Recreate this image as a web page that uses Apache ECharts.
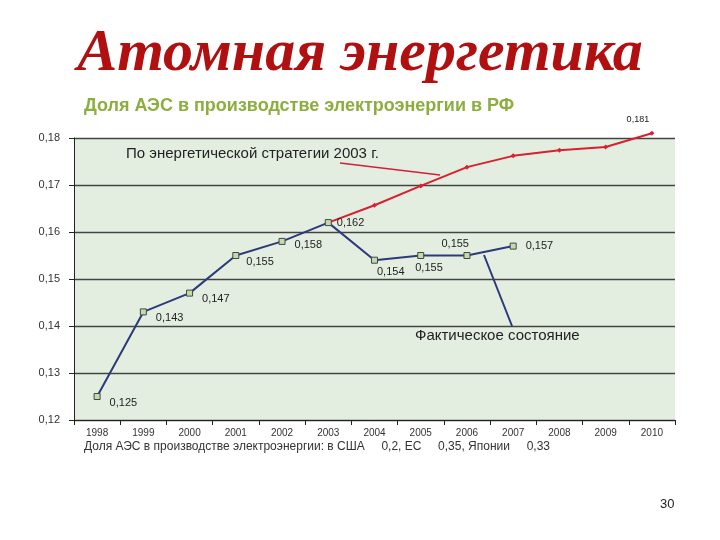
<!DOCTYPE html>
<html><head><meta charset="utf-8">
<script src="https://cdn.jsdelivr.net/npm/echarts@6/dist/echarts.min.js"></script>
<style>html,body{margin:0;padding:0;background:#fff}#c{width:720px;height:540px}</style>
</head><body><div id="c"></div>
<script>
const years = ['1998','1999','2000','2001','2002','2003','2004','2005','2006','2007','2008','2009','2010'];
const actual = [0.125,0.143,0.147,0.155,0.158,0.162,0.154,0.155,0.155,0.157,null,null,null];
const strategy = [null,null,null,null,null,0.162,0.1657,0.1698,0.1738,0.1762,0.1774,0.1781,0.181];
const yTicks = [0.12,0.13,0.14,0.15,0.16,0.17,0.18];
const fmt = v => v.toFixed(3).replace('.', ',');
const actualLabelPos = {0:[4,6],1:[4,6],2:[4,6],3:[2,6],4:[4,4],6:[-6,12],7:[-14,12],8:[-34,-12],9:[4,0]};
const chart = echarts.init(document.getElementById('c'));
chart.setOption({
  animation:false,
  graphic:[
    {type:'text',left:'center',top:24,style:{text:'Атомная энергетика',font:'italic bold 60px "Liberation Serif"',fill:'#b01010'}},
    {type:'text',left:84,top:97,style:{text:'Доля АЭС в производстве электроэнергии в РФ',font:'bold 18px "Liberation Sans"',fill:'#8cae3c',letterSpacing:1.4}},
    {type:'text',left:126,top:146,style:{text:'По энергетической стратегии 2003 г.',font:'15px "Liberation Sans"',fill:'#222'}},
    {type:'line',shape:{x1:340,y1:163,x2:440,y2:175},style:{stroke:'#d0203a',lineWidth:1.5}},
    {type:'text',left:415,top:328,style:{text:'Фактическое состояние',font:'15px "Liberation Sans"',fill:'#222'}},
    {type:'line',shape:{x1:512,y1:326,x2:484,y2:255},style:{stroke:'#2a3a7a',lineWidth:2}},
    {type:'text',left:84,top:441,style:{text:'Доля АЭС в производстве электроэнергии: в США     0,2, ЕС     0,35, Японии     0,33',font:'12px "Liberation Sans"',fill:'#333'}},
    {type:'text',left:660,top:498,style:{text:'30',font:'13px "Liberation Sans"',fill:'#222'}}
  ],
  grid:{left:74,right:45,top:138,bottom:120,show:true,backgroundColor:'#e4eee0',borderWidth:0},
  xAxis:{type:'category',data:years,boundaryGap:true,
    axisLine:{lineStyle:{color:'#222'}},axisTick:{show:true,interval:0,lineStyle:{color:'#222'}},
    axisLabel:{fontSize:10,color:'#333',margin:8,interval:0}},
  yAxis:{type:'value',min:0.12,max:0.18,interval:0.01,
    axisLine:{show:true,lineStyle:{color:'#222'}},axisTick:{show:true,lineStyle:{color:'#222'}},
    axisLabel:{fontSize:11,color:'#333',formatter:v=>v.toFixed(2).replace('.',','),margin:14},
    splitLine:{lineStyle:{color:'#444',width:1.4}}},
  series:[
    {type:'line',data:strategy,connectNulls:false,symbol:'diamond',symbolSize:5,clip:false,
     lineStyle:{color:'#d8202e',width:2},itemStyle:{color:'#d8202e'},
     label:{show:true,fontSize:9,color:'#222',
       formatter:p=>p.dataIndex===12?fmt(p.value):'',position:'top',offset:[-14,-2]}},
    {type:'line',data:actual.map((v,i)=>({value:v,label:{offset:actualLabelPos[i]||[0,0]}})),
     symbol:'rect',symbolSize:6,z:3,clip:false,
     lineStyle:{color:'#2a3a7a',width:2},itemStyle:{color:'#c8d8a8',borderColor:'#3a4a4a',borderWidth:1},
     label:{show:true,position:'right',fontSize:11,color:'#222',
       formatter:p=>p.value==null?'':fmt(p.value)}}
  ]
});
</script></body></html>
